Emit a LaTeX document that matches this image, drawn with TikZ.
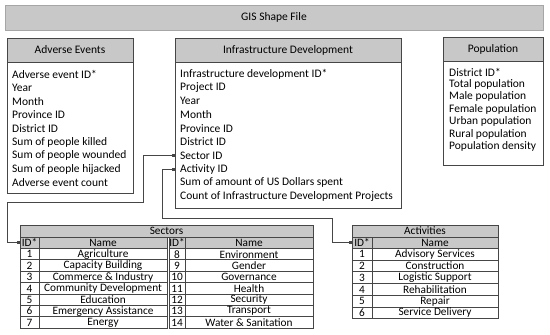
\documentclass[tikz,border=0pt]{standalone}
\usepackage{fontspec}
\setmainfont{Carlito}
\usepackage{tikz}
\usetikzlibrary{arrows.meta, positioning, calc}

\definecolor{boxgray}{RGB}{200,200,200}
\definecolor{boxline}{RGB}{70,70,70}

\begin{document}
\begin{tikzpicture}[
      x=1pt, y=-1pt,
      head/.style={rectangle, draw=boxline, fill=boxgray, line width=1pt, outer sep=0pt, inner sep=0pt, font=\fontsize{11.5}{13}\selectfont},
      body/.style={rectangle, draw=boxline, fill=white, line width=1pt, outer sep=0pt, inner sep=0pt},
      field/.style={anchor=west, inner sep=0pt, font=\fontsize{11.5}{13}\selectfont},
      cell/.style={rectangle, draw=boxline, line width=0.9pt, outer sep=0pt, inner sep=0pt, anchor=north west, font=\fontsize{11.3}{12}\selectfont},
      hcell/.style={cell, fill=boxgray},
      conn/.style={{Square[length=3pt,width=3pt]}-{Square[length=3pt,width=3pt]}, draw=boxline, line width=0.9pt}
  ]
      \useasboundingbox (0,0) rectangle (550,335);

      % Shape file bar
      \node[head, draw=gray!70, minimum width=538pt, minimum height=25pt, anchor=north west] (gis) at (5,5) {GIS Shape File};

      % Adverse events
      \node[head, minimum width=126pt, minimum height=24pt, anchor=north west] (advHead) at (7,38) {Adverse Events};
      \node[body, minimum width=126pt, minimum height=131pt, anchor=north] (advBody) at (advHead.south) {};
      \foreach \t [count=\i] in {Adverse event ID*, Year, Month, Province ID, District ID, Sum of people killed, Sum of people wounded, Sum of people hijacked, Adverse event count}
          \node[field] (adv\i) at ($(advBody.north west)+(5,{12+(\i-1)*13.6})$) {\t};

      % Infrastructure development
      \node[head, minimum width=226pt, minimum height=24pt, anchor=north west] (infHead) at (175,38) {Infrastructure Development};
      \node[body, minimum width=226pt, minimum height=146pt, anchor=north] (infBody) at (infHead.south) {};
      \foreach \t [count=\i] in {Infrastructure development ID*, Project ID, Year, Month, Province ID, District ID, Sector ID, Activity ID, Sum of amount of US Dollars spent, Count of Infrastructure Development Projects}
          \node[field] (inf\i) at ($(infBody.north west)+(5,{12+(\i-1)*13.6})$) {\t};

      % Population
      \node[head, minimum width=100pt, minimum height=24pt, anchor=north west] (popHead) at (443,37) {Population};
      \node[body, minimum width=100pt, minimum height=104pt, anchor=north] (popBody) at (popHead.south) {};
      \foreach \t [count=\i] in {District ID*, Total population, Male population, Female population, Urban population, Rural population, Population density}
          \node[field] (pop\i) at ($(popBody.north west)+(6,{11+(\i-1)*12.4})$) {\t};

      % Sectors table
      \node[hcell, minimum width=293pt, minimum height=12pt] (secTitle) at (20,225) {Sectors};
      \node[hcell, minimum width=19pt, minimum height=11.5pt] (secId) at (secTitle.south west) {ID*};
      \node[hcell, minimum width=128pt, minimum height=11.5pt] (secName) at (secId.north east) {Name};
      \node[hcell, minimum width=16pt, minimum height=11.5pt] (secIdB) at ($(secName.north east)+(2,0)$) {ID*};
      \node[hcell, minimum width=128pt, minimum height=11.5pt] (secNameB) at (secIdB.north east) {Name};
      \foreach \n [count=\i] in {Agriculture, Capacity Building, Commerce \& Industry, Community Development, Education, Emergency Assistance, Energy} {
          \node[cell, minimum width=19pt, minimum height=11.4pt] (secL\i) at ($(secId.south west)+(0,{(\i-1)*11.4})$) {\i};
          \node[cell, minimum width=128pt, minimum height=11.4pt] at (secL\i.north east) {\n};
      }
      \foreach \n [count=\i] in {Environment, Gender, Governance, Health, Security, Transport, Water \& Sanitation} {
          \pgfmathtruncatemacro\j{\i+7}
          \node[cell, minimum width=16pt, minimum height=11.4pt] (secR\i) at ($(secIdB.south west)+(0,{(\i-1)*11.4})$) {\j};
          \node[cell, minimum width=128pt, minimum height=11.4pt] at (secR\i.north east) {\n};
      }

      % Activities table
      \node[hcell, minimum width=146pt, minimum height=12pt] (actTitle) at (352,225) {Activities};
      \node[hcell, minimum width=20pt, minimum height=11.5pt] (actId) at (actTitle.south west) {ID*};
      \node[hcell, minimum width=126pt, minimum height=11.5pt] (actName) at (actId.north east) {Name};
      \foreach \n [count=\i] in {Advisory Services, Construction, Logistic Support, Rehabilitation, Repair, Service Delivery} {
          \node[cell, minimum width=20pt, minimum height=11.7pt] (actL\i) at ($(actId.south west)+(0,{(\i-1)*11.7})$) {\i};
          \node[cell, minimum width=126pt, minimum height=11.7pt] at (actL\i.north east) {\n};
      }

      % Links
      \draw[conn] (infBody.west |- inf7) -| (143,202) -| (advHead.west |- secId.west) -- (secId.west);
      \draw[conn] (infBody.west |- inf8) -| (162,218) -| ($(actId.west)+(-20,0)$) -- (actId.west);

  \end{tikzpicture}
\end{document}
